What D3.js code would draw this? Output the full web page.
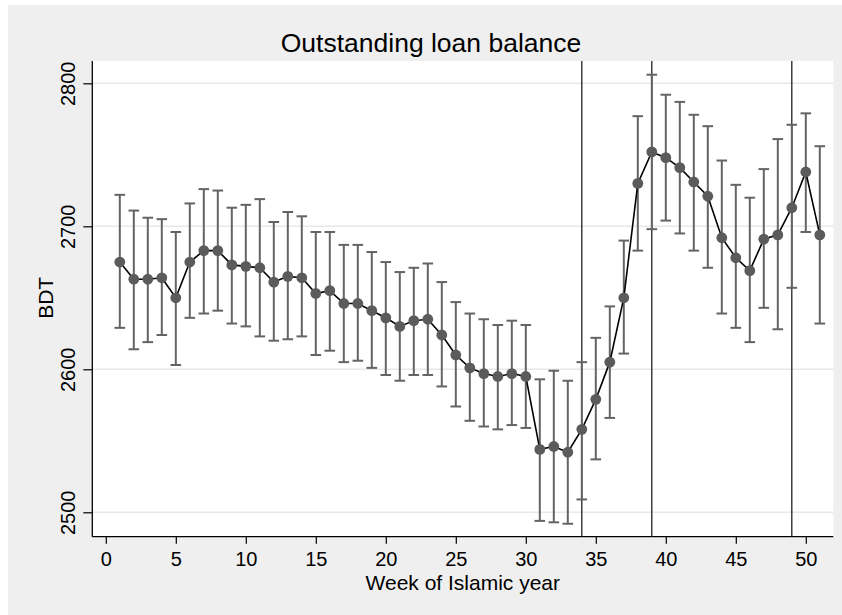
<!DOCTYPE html>
<html>
<head>
<meta charset="utf-8">
<script src="https://cdn.jsdelivr.net/npm/d3@7"></script>
<style>
  html, body { margin: 0; padding: 0; background: #ffffff; }
  svg { display: block; }
  text { font-family: "Liberation Sans", Arial, Helvetica, sans-serif; fill: #000; }
</style>
</head>
<body>
<script>
// ---- Data ----
const weeks = [1,2,3,4,5,6,7,8,9,10,11,12,13,14,15,16,17,18,19,20,21,22,23,24,25,26,27,28,29,30,31,32,33,34,35,36,37,38,39,40,41,42,43,44,45,46,47,48,49,50,51];
const meanBalance = [2675,2663,2663,2664,2650,2675,2683,2683,2673,2672,2671,2661,2665,2664,2653,2655,2646,2646,2641,2636,2630,2634,2635,2624,2610,2601,2597,2595,2597,2595,2544,2546,2542,2558,2579,2605,2650,2730,2752,2748,2741,2731,2721,2692,2678,2669,2691,2694,2713,2738,2694];
const upperCI = [2722,2711,2706,2705,2696,2716,2726,2725,2713,2715,2719,2703,2710,2707,2696,2696,2687,2687,2682,2675,2668,2671,2674,2661,2647,2639,2635,2631,2634,2631,2593,2599,2592,2605,2622,2644,2690,2777,2806,2792,2787,2778,2770,2746,2729,2720,2740,2761,2771,2779,2756];
const lowerCI = [2629,2614,2619,2624,2603,2636,2639,2641,2632,2630,2623,2620,2621,2623,2610,2613,2605,2606,2601,2596,2592,2596,2596,2588,2574,2564,2560,2558,2561,2559,2494,2493,2492,2509,2537,2566,2611,2683,2698,2704,2695,2683,2671,2639,2629,2619,2643,2628,2657,2696,2632];
const markerWeeks = [34, 39, 49];
const xTicks = [0,5,10,15,20,25,30,35,40,45,50];
const yTicks = [2500,2600,2700,2800];
const titleText = "Outstanding loan balance";
const xLabel = "Week of Islamic year";
const yLabel = "BDT";

// ---- Layout ----
const W = 842, H = 615;
const plot = { left: 92.3, right: 833.3, top: 61, bottom: 536.7 };

const svg = d3.select("body").append("svg").attr("width", W).attr("height", H);

svg.append("rect").attr("x", 8).attr("y", 5).attr("width", W - 8).attr("height", H - 5).attr("fill", "#efefef");
svg.append("rect").attr("x", plot.left).attr("y", plot.top)
  .attr("width", plot.right - plot.left).attr("height", plot.bottom - plot.top).attr("fill", "#ffffff");

const x = d3.scaleLinear().domain([0, 50]).range([105.8, 805.8]);
const y = d3.scaleLinear().domain([2500, 2800]).range([512.3, 83.3]);

// grid
svg.append("g").selectAll("line").data(yTicks).join("line")
  .attr("x1", plot.left).attr("x2", plot.right)
  .attr("y1", d => y(d)).attr("y2", d => y(d))
  .attr("stroke", "#e8e8e8").attr("stroke-width", 1.5);

// y axis
const yAxis = d3.axisLeft(y).tickValues(yTicks).tickSize(9).tickPadding(0).tickFormat(d3.format("d"));
const gy = svg.append("g").attr("transform", `translate(${plot.left},0)`).call(yAxis);
gy.select(".domain").remove();
gy.selectAll(".tick line").attr("stroke", "#000").attr("stroke-width", 1.2);
gy.selectAll(".tick text")
  .attr("font-size", 20).attr("text-anchor", "middle")
  .attr("x", null).attr("dy", null)
  .attr("transform", "translate(-17,0) rotate(-90)")
  .attr("y", 0);
svg.append("line").attr("x1", plot.left).attr("x2", plot.left)
  .attr("y1", plot.top).attr("y2", plot.bottom).attr("stroke", "#000").attr("stroke-width", 1.3);

// x axis
const xAxis = d3.axisBottom(x).tickValues(xTicks).tickSize(7).tickPadding(0).tickFormat(d3.format("d"));
const gx = svg.append("g").attr("transform", `translate(0,${plot.bottom})`).call(xAxis);
gx.select(".domain").remove();
gx.selectAll(".tick line").attr("stroke", "#000").attr("stroke-width", 1.2);
gx.selectAll(".tick text").attr("font-size", 20).attr("dy", null).attr("y", 29.5);
svg.append("line").attr("x1", plot.left).attr("x2", plot.right)
  .attr("y1", plot.bottom).attr("y2", plot.bottom).attr("stroke", "#000").attr("stroke-width", 1.3);

// vertical reference lines
svg.append("g").selectAll("line").data(markerWeeks).join("line")
  .attr("x1", d => x(d)).attr("x2", d => x(d))
  .attr("y1", plot.top).attr("y2", plot.bottom)
  .attr("stroke", "#222").attr("stroke-width", 1.3);

const rows = weeks.map((w, i) => ({ w, m: meanBalance[i], lo: lowerCI[i], hi: upperCI[i] }));

// error bars
const eb = svg.append("g").attr("stroke", "#646464").attr("stroke-width", 2);
eb.selectAll("line.v").data(rows).join("line").attr("class", "v")
  .attr("x1", d => x(d.w)).attr("x2", d => x(d.w))
  .attr("y1", d => y(d.lo)).attr("y2", d => y(d.hi));
const cap = 5.3;
eb.selectAll("line.t").data(rows).join("line").attr("class", "t")
  .attr("x1", d => x(d.w) - cap).attr("x2", d => x(d.w) + cap)
  .attr("y1", d => y(d.hi)).attr("y2", d => y(d.hi));
eb.selectAll("line.b").data(rows).join("line").attr("class", "b")
  .attr("x1", d => x(d.w) - cap).attr("x2", d => x(d.w) + cap)
  .attr("y1", d => y(d.lo)).attr("y2", d => y(d.lo));

// connecting line
svg.append("path").datum(rows)
  .attr("d", d3.line().x(d => x(d.w)).y(d => y(d.m)))
  .attr("fill", "none").attr("stroke", "#000").attr("stroke-width", 1.6);

// markers
svg.append("g").selectAll("circle").data(rows).join("circle")
  .attr("cx", d => x(d.w)).attr("cy", d => y(d.m)).attr("r", 5.4)
  .attr("fill", "#5b5b5b");

// titles
svg.append("text").attr("x", 431).attr("y", 51.5).attr("text-anchor", "middle")
  .attr("font-size", 26.5).text(titleText);
svg.append("text").attr("x", (plot.left + plot.right) / 2).attr("y", 590).attr("text-anchor", "middle")
  .attr("font-size", 21).text(xLabel);
svg.append("text").attr("transform", `translate(52.5,${y(2650)}) rotate(-90)`)
  .attr("text-anchor", "middle").attr("font-size", 21).text(yLabel);
</script>
</body>
</html>
